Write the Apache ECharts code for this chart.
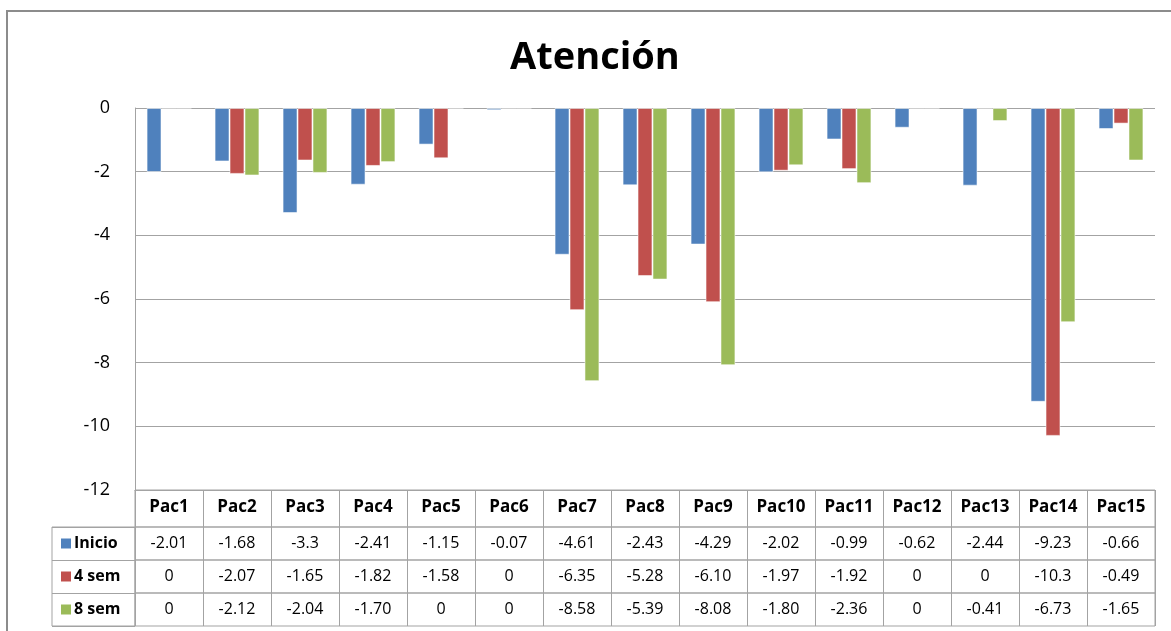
<!DOCTYPE html>
<html>
<head>
<meta charset="utf-8">
<title>Atención</title>
<script src="https://cdn.jsdelivr.net/npm/echarts@6/dist/echarts.min.js"></script>
<style>
  html, body { margin: 0; padding: 0; background: #ffffff; }
  #chart { width: 1171px; height: 631px; }
</style>
</head>
<body>
<div id="chart"></div>
<script>
// Patients on the category axis
const categories = ['Pac1', 'Pac2', 'Pac3', 'Pac4', 'Pac5', 'Pac6', 'Pac7', 'Pac8',
  'Pac9', 'Pac10', 'Pac11', 'Pac12', 'Pac13', 'Pac14', 'Pac15'];

// Scores per measurement, kept as written in the data table
const inicio = ['-2.01', '-1.68', '-3.3', '-2.41', '-1.15', '-0.07', '-4.61', '-2.43',
  '-4.29', '-2.02', '-0.99', '-0.62', '-2.44', '-9.23', '-0.66'];
const sem4 = ['0', '-2.07', '-1.65', '-1.82', '-1.58', '0', '-6.35', '-5.28',
  '-6.10', '-1.97', '-1.92', '0', '0', '-10.3', '-0.49'];
const sem8 = ['0', '-2.12', '-2.04', '-1.70', '0', '0', '-8.58', '-5.39',
  '-8.08', '-1.80', '-2.36', '0', '-0.41', '-6.73', '-1.65'];

const seriesNames = ['Inicio', '4 sem', '8 sem'];
const seriesRows = [inicio, sem4, sem8];
const seriesColors = ['#4f81bd', '#c0504d', '#9bbb59'];

// Value axis range and step
const yMin = -12;
const yMax = 0;
const yStep = 2;

const FONT = '"Open Sans", "Liberation Sans", sans-serif';
const GRID_GRAY = '#a3a3a3';
const PLOT_LEFT = 135;
const PLOT_RIGHT = 16;
const PLOT_TOP = 108;
const PLOT_BOTTOM_Y = 490;
const HEADER_H = 37;
const ROW_H = 33;

const chart = echarts.init(document.getElementById('chart'), null, { renderer: 'canvas' });

const grids = [];
const xAxes = [];
const yAxes = [];

// Main plot
grids.push({ left: PLOT_LEFT, right: PLOT_RIGHT, top: PLOT_TOP, height: PLOT_BOTTOM_Y - PLOT_TOP });
xAxes.push({
  type: 'category', gridIndex: 0, data: categories, position: 'bottom',
  axisLine: { onZero: false, lineStyle: { color: GRID_GRAY, width: 1 } },
  axisTick: { show: false },
  axisLabel: { color: '#000', fontFamily: FONT, fontSize: 17, fontWeight: 'bold', margin: 9, interval: 0 },
  splitLine: { show: false }
});
yAxes.push({
  type: 'value', gridIndex: 0, min: yMin, max: yMax, interval: yStep,
  axisLine: { show: true, lineStyle: { color: GRID_GRAY, width: 1 } },
  axisTick: { show: false },
  axisLabel: { color: '#000', fontFamily: FONT, fontSize: 18, margin: 25 },
  splitLine: { show: true, lineStyle: { color: GRID_GRAY, width: 1 } }
});

// Header row of the data table (column borders)
grids.push({
  left: PLOT_LEFT, right: PLOT_RIGHT, top: PLOT_BOTTOM_Y, height: HEADER_H,
  show: true, borderColor: GRID_GRAY, borderWidth: 1, backgroundColor: 'transparent'
});
xAxes.push({
  type: 'category', gridIndex: 1, data: categories,
  axisLine: { show: false }, axisTick: { show: false }, axisLabel: { show: false },
  splitLine: { show: true, interval: 0, lineStyle: { color: GRID_GRAY, width: 1 } }
});
yAxes.push({ type: 'value', gridIndex: 1, show: false });

// One table row per measurement, values shown as axis labels
seriesRows.forEach(function (row, r) {
  const gi = grids.length;
  grids.push({
    left: PLOT_LEFT, right: PLOT_RIGHT, top: PLOT_BOTTOM_Y + HEADER_H + r * ROW_H, height: ROW_H,
    show: true, borderColor: GRID_GRAY, borderWidth: 1, backgroundColor: 'transparent'
  });
  xAxes.push({
    type: 'category', gridIndex: gi, data: categories, position: 'top',
    axisLine: { show: false }, axisTick: { show: false },
    axisLabel: {
      inside: true, margin: 8, interval: 0, color: '#000', fontFamily: FONT, fontSize: 16,
      formatter: function (value, index) { return row[index]; }
    },
    splitLine: { show: true, interval: 0, lineStyle: { color: GRID_GRAY, width: 1 } }
  });
  yAxes.push({ type: 'value', gridIndex: gi, show: false });
});

// Row header column with colour keys
const keyGrid = grids.length;
grids.push({
  left: 52, width: PLOT_LEFT - 52, top: PLOT_BOTTOM_Y + HEADER_H, height: ROW_H * seriesRows.length,
  show: true, borderColor: GRID_GRAY, borderWidth: 1, backgroundColor: 'transparent'
});
xAxes.push({ type: 'value', gridIndex: keyGrid, show: false });
const keyRich = {
  gap: { width: 3, height: 10 },
  t: { fontFamily: FONT, fontSize: 16, fontWeight: 'bold', color: '#000', lineHeight: 20, verticalAlign: 'middle' }
};
seriesColors.forEach(function (c, i) {
  keyRich['k' + i] = { width: 10, height: 10, backgroundColor: c, verticalAlign: 'middle' };
});
yAxes.push({
  type: 'category', gridIndex: keyGrid, data: seriesNames, inverse: true,
  axisLine: { show: false }, axisTick: { show: false },
  axisLabel: {
    inside: true, margin: 9, interval: 0,
    formatter: function (value, index) { return '{k' + index + '|}{gap|}{t|' + value + '}'; },
    rich: keyRich
  },
  splitLine: { show: true, interval: 0, lineStyle: { color: GRID_GRAY, width: 1 } }
});

const series = seriesRows.map(function (row, i) {
  return {
    name: seriesNames[i],
    type: 'bar',
    xAxisIndex: 0,
    yAxisIndex: 0,
    data: row.map(Number),
    barGap: '0%',
    barCategoryGap: '34%',
    itemStyle: { color: seriesColors[i], borderColor: 'rgba(255,255,255,0.55)', borderWidth: 1 },
    emphasis: { disabled: true },
    animation: false
  };
});

chart.setOption({
  backgroundColor: '#ffffff',
  animation: false,
  title: {
    text: 'Atención',
    left: 505,
    top: 34,
    textStyle: { fontFamily: FONT, fontSize: 38, fontWeight: 'bold', color: '#000' }
  },
  graphic: [{
    type: 'rect',
    shape: { x: 7, y: 11, width: 1300, height: 800 },
    style: { fill: 'none', stroke: '#8c8c8c', lineWidth: 2 },
    silent: true
  }],
  grid: grids,
  xAxis: xAxes,
  yAxis: yAxes,
  series: series
});
</script>
</body>
</html>
